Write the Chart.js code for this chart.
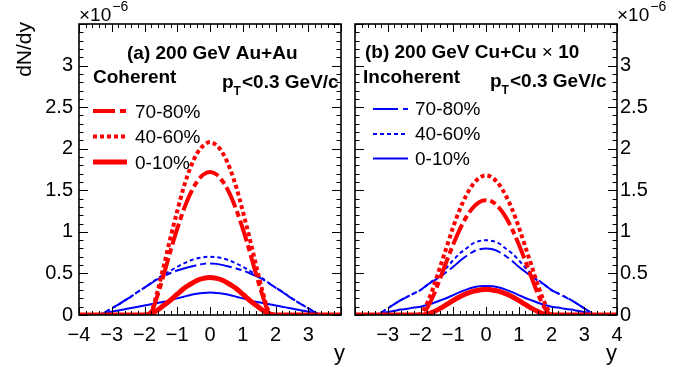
<!DOCTYPE html>
<html><head><meta charset="utf-8">
<script src="https://cdn.jsdelivr.net/npm/chart.js@4.4.0/dist/chart.umd.min.js"></script>
<style>
html,body{margin:0;padding:0;background:#fff;}
#wrap{position:relative;width:700px;height:375px;overflow:hidden;background:#fff;}
#c1{position:absolute;left:0;top:0;}
#c2{position:absolute;left:347px;top:0;}
</style></head><body>
<div id="wrap"><canvas id="c1" width="349" height="375"></canvas><canvas id="c2" width="353" height="375"></canvas></div>
<script>
// rapidity grid (x axis, "y")
const rapidity = [-4.0,-3.8,-3.6,-3.4,-3.2,-3.0,-2.8,-2.6,-2.4,-2.2,-2.0,-1.8,-1.6,-1.4,-1.2,-1.0,-0.8,-0.6,-0.4,-0.2,0,
                   0.2,0.4,0.6,0.8,1.0,1.2,1.4,1.6,1.8,2.0,2.2,2.4,2.6,2.8,3.0,3.2,3.4,3.6,3.8,4.0];
// dN/dy in units of 1e-6 — (a) 200 GeV Au+Au
const auCoh7080 = [0,0,0,0,0,0,0,0,0,0,0,0.03,0.24,0.50,0.78,1.04,1.27,1.46,1.60,1.69,1.72,
                   1.69,1.60,1.46,1.27,1.04,0.78,0.50,0.24,0.03,0,0,0,0,0,0,0,0,0,0,0];
const auCoh4060 = [0,0,0,0,0,0,0,0,0,0,0,0.04,0.29,0.61,0.94,1.25,1.54,1.77,1.94,2.04,2.08,
                   2.04,1.94,1.77,1.54,1.25,0.94,0.61,0.29,0.04,0,0,0,0,0,0,0,0,0,0,0];
const auCoh010  = [0,0,0,0,0,0,0,0,0,0,0,0.016,0.06,0.12,0.18,0.25,0.32,0.37,0.415,0.44,0.45,
                   0.44,0.415,0.37,0.32,0.25,0.18,0.12,0.06,0.016,0,0,0,0,0,0,0,0,0,0,0];
const auInc7080 = [0,0,0,0,0.035,0.08,0.125,0.175,0.225,0.28,0.33,0.38,0.43,0.47,0.505,0.535,0.56,0.58,0.60,0.615,0.62,
                   0.615,0.60,0.58,0.56,0.535,0.505,0.47,0.43,0.38,0.33,0.28,0.225,0.175,0.125,0.08,0.035,0,0,0,0];
const auInc4060 = [0,0,0,0,0.035,0.08,0.125,0.175,0.225,0.28,0.33,0.385,0.44,0.49,0.535,0.58,0.62,0.655,0.68,0.695,0.70,
                   0.695,0.68,0.655,0.62,0.58,0.535,0.49,0.44,0.385,0.33,0.28,0.225,0.175,0.125,0.08,0.035,0,0,0,0];
const auInc010  = [0,0,0,0.005,0.02,0.04,0.055,0.07,0.085,0.10,0.115,0.13,0.145,0.16,0.18,0.20,0.22,0.24,0.255,0.265,0.27,
                   0.265,0.255,0.24,0.22,0.20,0.18,0.16,0.145,0.13,0.115,0.10,0.085,0.07,0.055,0.04,0.02,0.005,0,0,0];
// (b) 200 GeV Cu+Cu x 10
const cuCoh7080 = [0,0,0,0,0,0,0,0,0,0,0,0.08,0.24,0.44,0.65,0.85,1.03,1.18,1.29,1.36,1.38,
                   1.36,1.29,1.18,1.03,0.85,0.65,0.44,0.24,0.08,0,0,0,0,0,0,0,0,0,0,0];
const cuCoh4060 = [0,0,0,0,0,0,0,0,0,0,0.01,0.14,0.34,0.58,0.82,1.06,1.27,1.44,1.57,1.65,1.68,
                   1.65,1.57,1.44,1.27,1.06,0.82,0.58,0.34,0.14,0.01,0,0,0,0,0,0,0,0,0,0];
const cuCoh010  = [0,0,0,0,0,0,0,0,0,0,0,0.011,0.04,0.08,0.127,0.175,0.22,0.257,0.285,0.30,0.31,
                   0.30,0.285,0.257,0.22,0.175,0.127,0.08,0.04,0.011,0,0,0,0,0,0,0,0,0,0,0];
const cuInc7080 = [0,0,0,0,0.03,0.08,0.13,0.18,0.22,0.26,0.30,0.36,0.41,0.46,0.52,0.58,0.65,0.71,0.76,0.79,0.80,
                   0.79,0.76,0.71,0.65,0.58,0.52,0.46,0.41,0.36,0.30,0.26,0.22,0.18,0.13,0.08,0.03,0,0,0,0];
const cuInc4060 = [0,0,0,0,0.03,0.08,0.13,0.18,0.22,0.26,0.30,0.36,0.42,0.49,0.57,0.66,0.74,0.80,0.86,0.89,0.90,
                   0.89,0.86,0.80,0.74,0.66,0.57,0.49,0.42,0.36,0.30,0.26,0.22,0.18,0.13,0.08,0.03,0,0,0,0];
const cuInc010  = [0,0,0,0,0.015,0.035,0.05,0.065,0.075,0.09,0.10,0.12,0.145,0.175,0.205,0.24,0.275,0.305,0.33,0.345,0.35,
                   0.345,0.33,0.305,0.275,0.24,0.205,0.175,0.145,0.12,0.10,0.09,0.075,0.065,0.05,0.035,0.015,0,0,0,0];

const yTickValues = [0,0.5,1,1.5,2,2.5,3];
const yTickLabels = ['0','0.5','1','1.5','2','2.5','3'];
const xTickValues = [-4,-3,-2,-1,0,1,2,3,4];
const xTickLabelsLeft  = ['\u22124','\u22123','\u22122','\u22121','0','1','2','3',''];
const xTickLabelsRight = ['','\u22123','\u22122','\u22121','0','1','2','3','4'];
const legendLabels = ['70-80%','40-60%','0-10%'];

const FONT = "'Liberation Sans', Arial, Helvetica, sans-serif";
const RED = '#ff0000', BLUE = '#0000ff';
const DASH = [22,4,6,4], DOT = [4,3];

function ds(arr, color, width, dash){
  return {data: rapidity.map((x,i)=>({x:x, y:arr[i]})), borderColor: color, borderWidth: width,
    borderDash: dash, pointRadius: 0, fill: false, tension: 0.4, cubicInterpolationMode: 'monotone', clip: 0};
}

function frameTicks(){
  return {id:'frameTicks', afterDatasetsDraw(chart){
    const ctx = chart.ctx, a = chart.chartArea, xs = chart.scales.x, ys = chart.scales.y;
    ctx.save(); ctx.strokeStyle = '#000'; ctx.lineWidth = 1;
    ctx.beginPath();
    for (let k = -40; k <= 40; k += 2){
      const px = Math.round(xs.getPixelForValue(k/10)) + 0.5, L = (k % 10 === 0) ? 8 : 4;
      ctx.moveTo(px, a.bottom); ctx.lineTo(px, a.bottom - L);
      ctx.moveTo(px, a.top); ctx.lineTo(px, a.top + L);
    }
    for (let k = 0; k <= 35; k++){
      const py = Math.round(ys.getPixelForValue(k/10)) + 0.5, L = (k % 5 === 0) ? 9 : 4.5;
      ctx.moveTo(a.left, py); ctx.lineTo(a.left + L, py);
      ctx.moveTo(a.right, py); ctx.lineTo(a.right - L, py);
    }
    ctx.stroke();
    ctx.lineWidth = 1.6;
    ctx.strokeRect(a.left, a.top, a.right - a.left, a.bottom - a.top);
    ctx.restore();
  }};
}

function txt(ctx, s, x, y, size, bold, align){
  ctx.font = (bold ? 'bold ' : '') + size + 'px ' + FONT;
  ctx.textAlign = align || 'left'; ctx.textBaseline = 'alphabetic'; ctx.fillStyle = '#000';
  ctx.fillText(s, x, y);
  return ctx.measureText(s).width;
}

function legend(ctx, x0, x1, xt, ys, tys, color, widths, dashes){
  for (let i = 0; i < 3; i++){
    ctx.save(); ctx.strokeStyle = color; ctx.lineWidth = widths[i]; ctx.setLineDash(dashes[i]);
    ctx.beginPath(); ctx.moveTo(x0, ys[i]); ctx.lineTo(x1, ys[i]); ctx.stroke(); ctx.restore();
    txt(ctx, legendLabels[i], xt, tys[i], 19, false);
  }
}

function textPlugin(side, off){
  return {id:'texts'+side, afterDraw(chart){
    const ctx = chart.ctx; ctx.save(); ctx.translate(-off, 0);
    if (side === 'L'){
      let w = txt(ctx, '\u00d710', 79, 21, 19, false);
      txt(ctx, '\u22126', 79 + w + 1, 11, 14, false);
      ctx.save(); ctx.translate(31, 22); ctx.rotate(-Math.PI/2);
      txt(ctx, 'dN/dy', 0, 0, 21, false, 'right'); ctx.restore();
      txt(ctx, 'y', 345, 360, 22, false, 'right');
      txt(ctx, '(a) 200 GeV Au+Au', 127, 59, 19, true);
      txt(ctx, 'Coherent', 93, 83, 19, true);
      let wp = txt(ctx, 'p', 222, 88, 19, true);
      txt(ctx, 'T', 222 + wp, 95, 12, true);
      txt(ctx, '<0.3 GeV/c', 242, 88, 19, true);
      legend(ctx, 93, 127, 135, [111, 136.5, 162], [118, 143, 169], RED, [4, 4, 5], [[22,5,6,5], DOT, []]);
    } else {
      let w = txt(ctx, '\u00d710', 617, 21, 19, false);
      txt(ctx, '\u22126', 617 + w + 1, 11, 14, false);
      txt(ctx, 'y', 617, 360, 22, false, 'right');
      let x = 365;
      x += txt(ctx, '(b) 200 GeV Cu+Cu ', x, 58, 19, true);
      x += txt(ctx, '\u00d7', x, 58, 19, false);
      txt(ctx, ' 10', x, 58, 19, true);
      txt(ctx, 'Incoherent', 363, 83, 19, true);
      let wp = txt(ctx, 'p', 490, 87, 19, true);
      txt(ctx, 'T', 490 + wp, 94, 12, true);
      txt(ctx, '<0.3 GeV/c', 510, 87, 19, true);
      legend(ctx, 373, 408, 415, [109, 134, 158.5], [115, 140, 165], BLUE, [2, 2, 2], [[25,5,5,5], [4,3], []]);
    }
    ctx.restore();
  }};
}

function labelFrom(values, labels){
  return function(v){ const i = values.findIndex(t => Math.abs(t - v) < 1e-9); return i >= 0 ? labels[i] : ''; };
}

function makeChart(id, side, sets){
  const left = side === 'L';
  const off = left ? 0 : 347;
  return new Chart(document.getElementById(id), {
    type: 'line',
    data: {datasets: sets},
    options: {
      responsive: false, animation: false, devicePixelRatio: 1, events: [],
      layout: {padding: {left: left ? 0 : 1, right: left ? 1 : 0, top: 24, bottom: 0}},
      plugins: {legend: {display: false}, tooltip: {enabled: false}},
      scales: {
        x: {type: 'linear', min: -4, max: 4, position: 'bottom',
            afterBuildTicks: s => { s.ticks = xTickValues.map(v => ({value: v})); },
            afterFit: s => { s.height = 60; },
            ticks: {callback: labelFrom(xTickValues, left ? xTickLabelsLeft : xTickLabelsRight),
                    font: {family: FONT, size: 20}, color: '#000', padding: 8, maxRotation: 0, autoSkip: false},
            grid: {display: false, drawTicks: false}, border: {display: false}},
        y: {type: 'linear', min: 0, max: 3.5, position: left ? 'left' : 'right',
            afterBuildTicks: s => { s.ticks = yTickValues.map(v => ({value: v})); },
            afterFit: s => { s.width = left ? 79 : 83; },
            ticks: {callback: labelFrom(yTickValues, yTickLabels),
                    font: {family: FONT, size: 20}, color: '#000', padding: left ? 6 : 3, autoSkip: false},
            grid: {display: false, drawTicks: false}, border: {display: false}}
      }
    },
    plugins: [frameTicks(), textPlugin(side, off)]
  });
}

makeChart('c1', 'L', [
  ds(auCoh010, RED, 5, []), ds(auCoh4060, RED, 4, DOT), ds(auCoh7080, RED, 4, DASH),
  ds(auInc010, BLUE, 2, []), ds(auInc4060, BLUE, 2, DOT), ds(auInc7080, BLUE, 2, DASH)
]);
makeChart('c2', 'R', [
  ds(cuCoh010, RED, 5, []), ds(cuCoh4060, RED, 4, DOT), ds(cuCoh7080, RED, 4, DASH),
  ds(cuInc010, BLUE, 2, []), ds(cuInc4060, BLUE, 2, DOT), ds(cuInc7080, BLUE, 2, DASH)
]);
</script>
</body></html>
